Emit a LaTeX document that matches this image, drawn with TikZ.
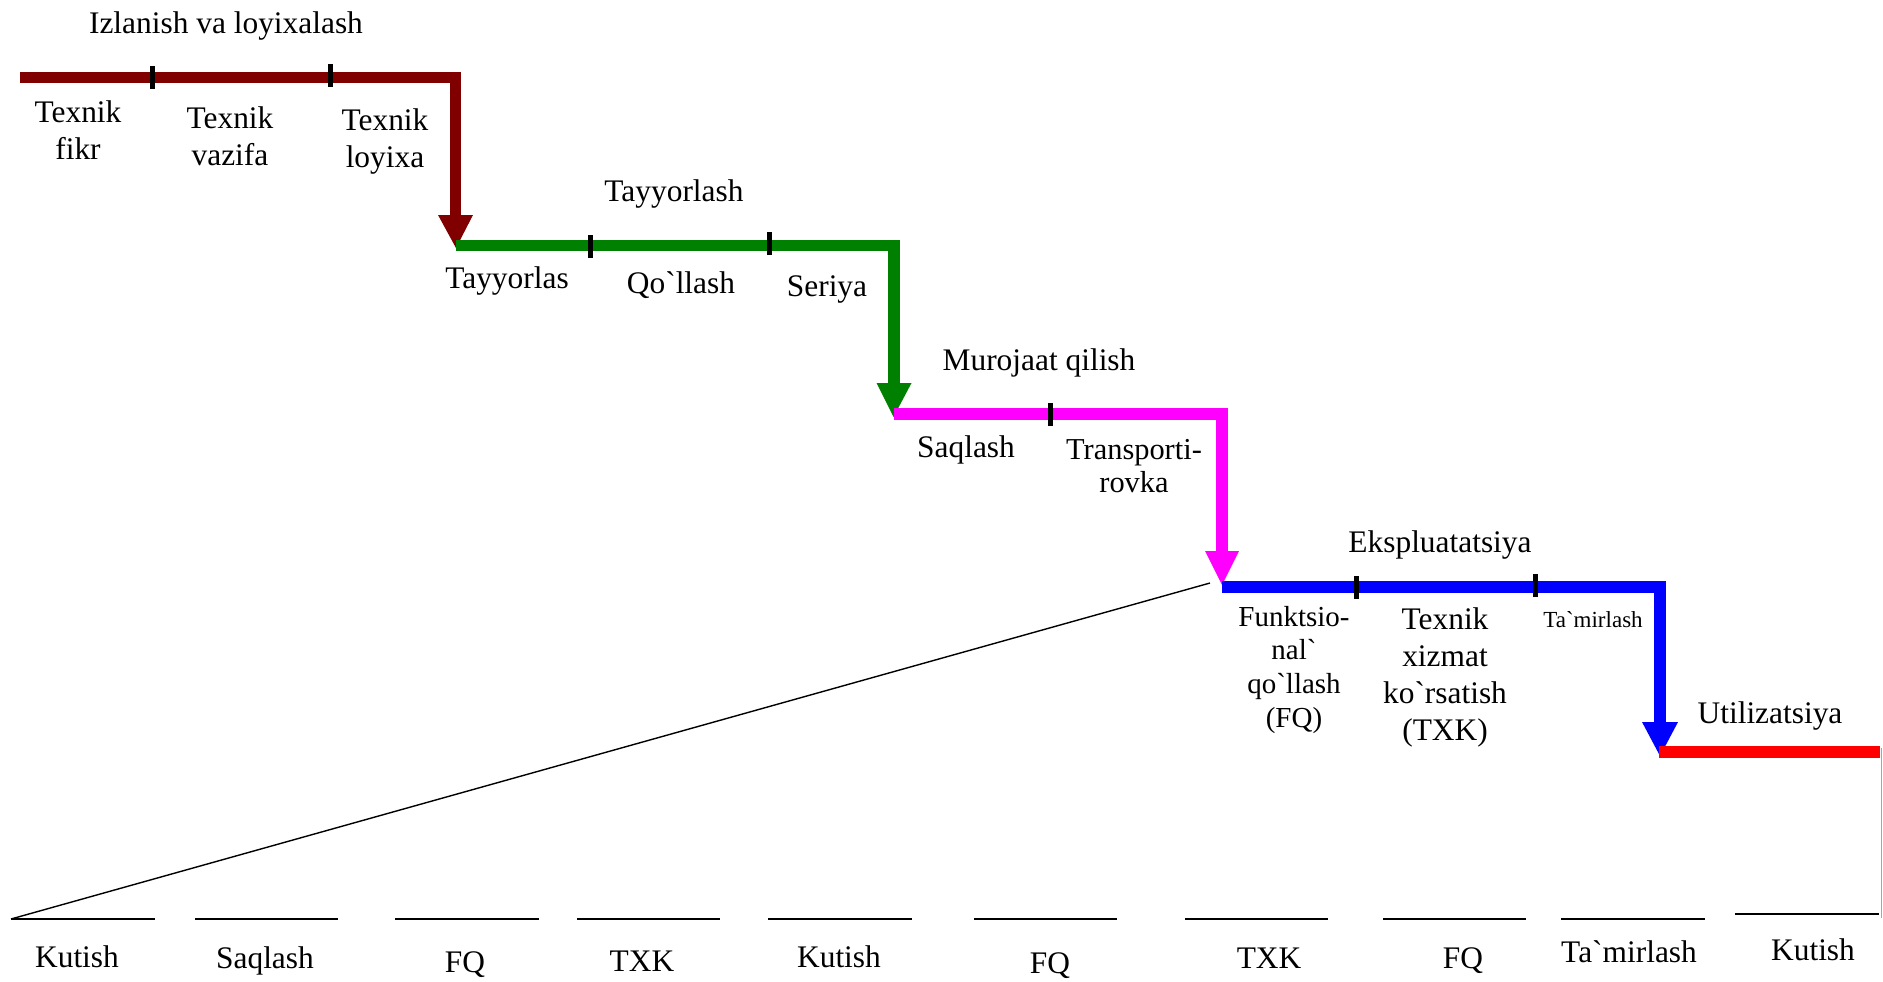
\documentclass[tikz,border=0pt]{standalone}
\usepackage{fontspec}
\setmainfont{Liberation Serif}
\newcommand{\bq}{\textasciigrave}
\definecolor{stageA}{HTML}{800000}
\definecolor{stageB}{HTML}{008000}
\definecolor{stageC}{HTML}{FF00FF}
\definecolor{stageD}{HTML}{0000FF}
\definecolor{stageE}{HTML}{FF0000}
\tikzset{
  phase/.style={line width=5.8pt, line join=miter, line cap=butt},
  tickmark/.style={line width=2.5pt, black},
  lbl/.style={anchor=base, inner sep=0pt, font=\fontsize{15.7}{18.5}\selectfont, align=center},
  small/.style={anchor=base, inner sep=0pt, font=\fontsize{11.5}{14}\selectfont},
  baseline/.style={line width=0.9pt, black},
  zoomline/.style={line width=0.7pt, black},
}
\begin{document}
\begin{tikzpicture}[x=0.5pt, y=-0.5pt]
\useasboundingbox (0,0) rectangle (1883,981);

% ---- Stage 1: research and design
\coordinate (a0) at (20,77.5);
\coordinate (a1) at (455.5,77.5);
\coordinate (a2) at (455.5,215);
\draw[phase, stageA] (a0) -- (a1) -- (a2);
\fill[stageA] (438,215) -- (473,215) -- (456,248) -- cycle;
\draw[tickmark] (152.7,66) -- (152.7,89);
\draw[tickmark] (330,64) -- (330,87);

% ---- Stage 2: manufacturing
\coordinate (b0) at (456,245.5);
\coordinate (b1) at (894,245.5);
\coordinate (b2) at (894,383);
\draw[phase, stageB] (b0) -- (b1) -- (b2);
\fill[stageB] (876.5,383) -- (911.5,383) -- (893.5,417) -- cycle;
\draw[tickmark] (590.7,235) -- (590.7,258);
\draw[tickmark] (769,232) -- (769,255);

% ---- Stage 3: handling
\coordinate (c0) at (894,414);
\coordinate (c1) at (1222,414);
\coordinate (c2) at (1222,551);
\draw[phase, stageC] (c0) -- (c1) -- (c2);
\fill[stageC] (1205,551) -- (1239,551) -- (1222,585) -- cycle;
\draw[tickmark] (1050.7,403) -- (1050.7,426);

% ---- Stage 4: operation
\coordinate (d0) at (1222,587);
\coordinate (d1) at (1660,587);
\coordinate (d2) at (1660,722);
\draw[phase, stageD] (d0) -- (d1) -- (d2);
\fill[stageD] (1642,722) -- (1678,722) -- (1660,756) -- cycle;
\draw[tickmark] (1356,576) -- (1356,599);
\draw[tickmark] (1535,574) -- (1535,597);

% ---- Stage 5: disposal
\coordinate (e0) at (1659,752);
\coordinate (e1) at (1880,752);
\draw[phase, stageE] (e0) -- (e1);
\coordinate (g0) at (1881.5,748);
\coordinate (g1) at (1881.5,918);
\draw[gray!70, line width=0.5pt] (g0) -- (g1);

% ---- Stage headings
\node[lbl] (hA) at (226,33) {Izlanish va loyixalash};
\node[lbl] (hB) at (674,201) {Tayyorlash};
\node[lbl] (hC) at (1039,370) {Murojaat qilish};
\node[lbl] (hD) at (1440,552) {Ekspluatatsiya};
\node[lbl] (hE) at (1770,723) {Utilizatsiya};

% ---- Sub-stage labels (multi-line nodes sit on the baseline of their last line)
\node[lbl] (tA1) at (78,159) {Texnik\\fikr};
\node[lbl] (tA2) at (230,165) {Texnik\\vazifa};
\node[lbl] (tA3) at (385,167) {Texnik\\loyixa};
\node[lbl] (tB1) at (507,288) {Tayyorlas};
\node[lbl] (tB2) at (681,293) {Qo\bq{}llash};
\node[lbl] (tB3) at (827,296) {Seriya};
\node[lbl] (tC1) at (966,457) {Saqlash};
\node[lbl, font=\fontsize{15.2}{16.4}\selectfont] (tC2) at (1134,492) {Transporti-\\rovka};
\node[lbl, font=\fontsize{14.5}{16.8}\selectfont] (tD1) at (1294,727) {Funktsio-\\nal\bq\\qo\bq{}llash\\(FQ)};
\node[lbl] (tD2) at (1445,740) {Texnik\\xizmat\\ko\bq{}rsatish\\(TXK)};
\node[small] (tD3) at (1593,627) {Ta\bq{}mirlash};

% ---- Detailed operation timeline
\coordinate (z0) at (11,919);
\coordinate (z1) at (1210,583);
\draw[zoomline] (z0) -- (z1);

\coordinate (p1a) at (11,919);   \coordinate (p1b) at (155,919);
\coordinate (p2a) at (195,919);  \coordinate (p2b) at (338,919);
\coordinate (p3a) at (395,919);  \coordinate (p3b) at (539,919);
\coordinate (p4a) at (577,919);  \coordinate (p4b) at (720,919);
\coordinate (p5a) at (768,919);  \coordinate (p5b) at (912,919);
\coordinate (p6a) at (974,919);  \coordinate (p6b) at (1117,919);
\coordinate (p7a) at (1185,919); \coordinate (p7b) at (1328,919);
\coordinate (p8a) at (1383,919); \coordinate (p8b) at (1526,919);
\coordinate (p9a) at (1561,919); \coordinate (p9b) at (1705,919);
\coordinate (p10a) at (1735,914); \coordinate (p10b) at (1879,914);
\foreach \i in {1,...,10} { \draw[baseline] (p\i a) -- (p\i b); }

\node[lbl] (q1) at (77,967) {Kutish};
\node[lbl] (q2) at (265,968) {Saqlash};
\node[lbl] (q3) at (465,972) {FQ};
\node[lbl] (q4) at (642,971) {TXK};
\node[lbl] (q5) at (839,967) {Kutish};
\node[lbl] (q6) at (1050,973) {FQ};
\node[lbl] (q7) at (1269,968) {TXK};
\node[lbl] (q8) at (1463,968) {FQ};
\node[lbl] (q9) at (1629,962) {Ta\bq{}mirlash};
\node[lbl] (q10) at (1813,960) {Kutish};
\end{tikzpicture}
\end{document}
